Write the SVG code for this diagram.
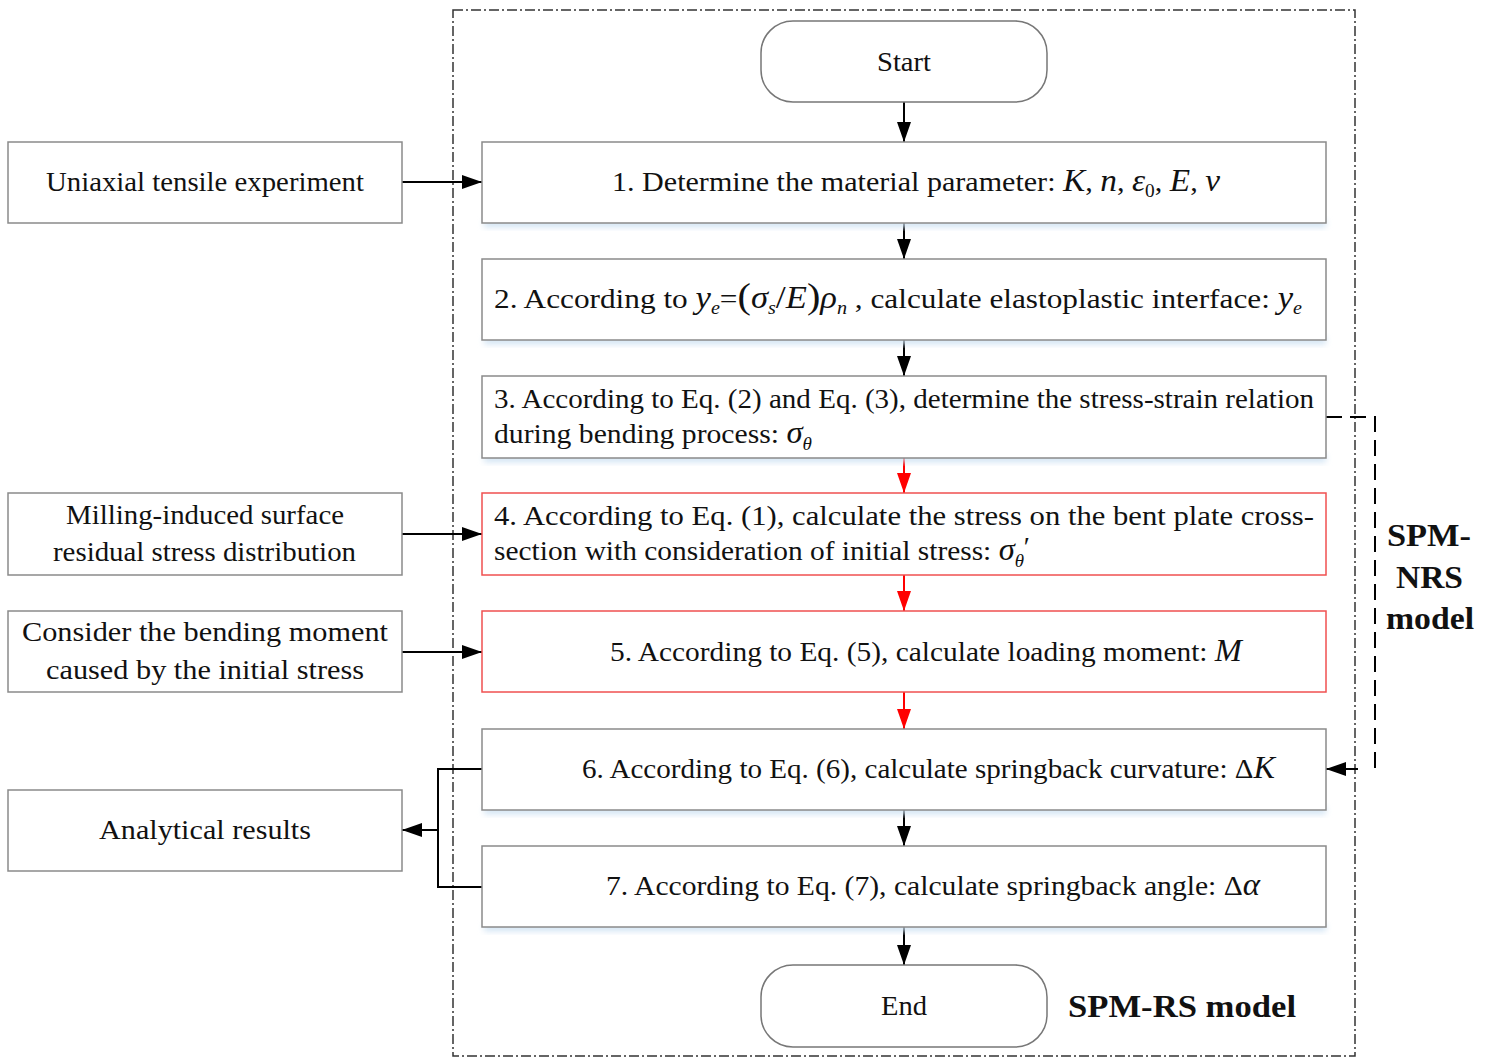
<svg xmlns="http://www.w3.org/2000/svg" width="1494" height="1059" viewBox="0 0 1494 1059">
<defs>
<style>
text{font-family:"Liberation Serif","Times New Roman",serif;font-size:28px;fill:#111}
.box{fill:#fff;stroke:#8a8a8a;stroke-width:1.5}
.red{fill:#fff;stroke:#f05050;stroke-width:1.5}
.term{fill:#fff;stroke:#777;stroke-width:1.5}
.sh{fill:#cfe2f3;filter:url(#blur)}
.ln{stroke:#000;stroke-width:2;fill:none}
.lr{stroke:#f00;stroke-width:2;fill:none}
.m{font-style:italic;font-size:31px}
.sub{font-style:italic;font-size:18px}
.b{font-weight:bold;font-size:32px}
</style>
<filter id="blur" x="-5%" y="-50%" width="110%" height="200%"><feGaussianBlur stdDeviation="3"/></filter>
<marker id="ah" markerUnits="userSpaceOnUse" markerWidth="22" markerHeight="16" refX="20" refY="7" orient="auto"><path d="M0,0 L20,7 L0,14 z" fill="#000"/></marker>
<marker id="ahr" markerUnits="userSpaceOnUse" markerWidth="22" markerHeight="16" refX="20" refY="7" orient="auto"><path d="M0,0 L20,7 L0,14 z" fill="#f00"/></marker>
</defs>
<rect width="1494" height="1059" fill="#fff"/>
<rect x="453" y="10" width="902" height="1046" fill="none" stroke="#333" stroke-width="1.5" stroke-dasharray="10,3,2,3"/>

<g id="connectors">
<line class="ln" x1="904" y1="102" x2="904" y2="142" marker-end="url(#ah)"/>
<line class="ln" x1="904" y1="223" x2="904" y2="259" marker-end="url(#ah)"/>
<line class="ln" x1="904" y1="340" x2="904" y2="376" marker-end="url(#ah)"/>
<line class="lr" x1="904" y1="458" x2="904" y2="493" marker-end="url(#ahr)"/>
<line class="lr" x1="904" y1="575" x2="904" y2="611" marker-end="url(#ahr)"/>
<line class="lr" x1="904" y1="692" x2="904" y2="729" marker-end="url(#ahr)"/>
<line class="ln" x1="904" y1="810" x2="904" y2="846" marker-end="url(#ah)"/>
<line class="ln" x1="904" y1="927" x2="904" y2="965" marker-end="url(#ah)"/>
<line class="ln" x1="402" y1="182" x2="482" y2="182" marker-end="url(#ah)"/>
<line class="ln" x1="402" y1="534" x2="482" y2="534" marker-end="url(#ah)"/>
<line class="ln" x1="402" y1="652" x2="482" y2="652" marker-end="url(#ah)"/>
<polyline class="ln" points="482,769 438,769 438,887 482,887"/>
<line class="ln" x1="438" y1="830" x2="402" y2="830" marker-end="url(#ah)"/>
<polyline class="ln" points="1326,417 1375,417 1375,769" stroke-dasharray="16,8"/>
<line class="ln" x1="1358" y1="769" x2="1326" y2="769" marker-end="url(#ah)"/>
</g>

<g id="start">
<rect class="term" x="761" y="21" width="286" height="81" rx="32"/>
<text x="877" y="71" textLength="54" lengthAdjust="spacingAndGlyphs">Start</text>
</g>

<g id="step1">
<rect class="sh" x="484" y="220" width="842" height="7"/>
<rect class="box" x="482" y="142" width="844" height="81"/>
<text x="612" y="191" textLength="608" lengthAdjust="spacingAndGlyphs">1. Determine the material parameter: <tspan class="m">K</tspan>, <tspan class="m">n</tspan>, <tspan class="m">ε</tspan><tspan font-size="18" dy="6">0</tspan><tspan dy="-6">, </tspan><tspan class="m">E</tspan>, <tspan class="m">ν</tspan></text>
</g>

<g id="step2">
<rect class="sh" x="484" y="337" width="842" height="7"/>
<rect class="box" x="482" y="259" width="844" height="81"/>
<text x="494" y="308" textLength="808" lengthAdjust="spacingAndGlyphs">2. According to <tspan class="m">y</tspan><tspan class="sub" dy="6">e</tspan><tspan dy="-6">=</tspan><tspan font-size="36">(</tspan><tspan class="m">σ</tspan><tspan class="sub" dy="6">s</tspan><tspan dy="-6" font-size="32">/</tspan><tspan class="m">E</tspan><tspan font-size="36">)</tspan><tspan class="m">ρ</tspan><tspan class="sub" dy="6">n</tspan><tspan dy="-6">   , calculate elastoplastic interface: </tspan><tspan class="m">y</tspan><tspan class="sub" dy="6">e</tspan></text>
</g>

<g id="step3">
<rect class="sh" x="484" y="455" width="842" height="7"/>
<rect class="box" x="482" y="376" width="844" height="82"/>
<text x="494" y="408" textLength="820" lengthAdjust="spacingAndGlyphs">3. According to Eq. (2) and Eq. (3), determine the stress-strain relation</text>
<text x="494" y="443" textLength="318" lengthAdjust="spacingAndGlyphs">during bending process: <tspan class="m">σ</tspan><tspan class="sub" dy="7">θ</tspan></text>
</g>

<g id="step4">
<rect class="red" x="482" y="493" width="844" height="82"/>
<text x="494" y="525" textLength="820" lengthAdjust="spacingAndGlyphs">4. According to Eq. (1), calculate the stress on the bent plate cross-</text>
<text x="494" y="560" textLength="530" lengthAdjust="spacingAndGlyphs">section with consideration of initial stress: <tspan class="m">σ</tspan><tspan class="sub" dy="7">θ</tspan></text>
<text x="1022" y="556" font-size="20" font-style="italic">′</text>
</g>

<g id="step5">
<rect class="red" x="482" y="611" width="844" height="81"/>
<text x="610" y="661" textLength="632" lengthAdjust="spacingAndGlyphs">5. According to Eq. (5), calculate loading moment:  <tspan class="m">M</tspan></text>
</g>

<g id="step6">
<rect class="sh" x="484" y="807" width="842" height="7"/>
<rect class="box" x="482" y="729" width="844" height="81"/>
<text x="582" y="778" textLength="693" lengthAdjust="spacingAndGlyphs">6. According to Eq. (6), calculate springback curvature:  Δ<tspan class="m" font-size="28">K</tspan></text>
</g>

<g id="step7">
<rect class="sh" x="484" y="924" width="842" height="7"/>
<rect class="box" x="482" y="846" width="844" height="81"/>
<text x="606" y="895" textLength="654" lengthAdjust="spacingAndGlyphs">7. According to Eq. (7), calculate springback angle:   Δ<tspan class="m" font-size="28">α</tspan></text>
</g>

<g id="end">
<rect class="term" x="761" y="965" width="286" height="82" rx="32"/>
<text x="881" y="1015" textLength="46" lengthAdjust="spacingAndGlyphs">End</text>
</g>

<g id="uniaxial">
<rect class="box" x="8" y="142" width="394" height="81"/>
<text x="46" y="191" textLength="318" lengthAdjust="spacingAndGlyphs">Uniaxial tensile experiment</text>
</g>

<g id="milling">
<rect class="box" x="8" y="493" width="394" height="82"/>
<text x="66" y="524" textLength="278" lengthAdjust="spacingAndGlyphs">Milling-induced surface</text>
<text x="53" y="561" textLength="303" lengthAdjust="spacingAndGlyphs">residual stress distribution</text>
</g>

<g id="consider">
<rect class="box" x="8" y="611" width="394" height="81"/>
<text x="22" y="641" textLength="366" lengthAdjust="spacingAndGlyphs">Consider the bending moment</text>
<text x="46" y="679" textLength="318" lengthAdjust="spacingAndGlyphs">caused by the initial stress</text>
</g>

<g id="analytical">
<rect class="box" x="8" y="790" width="394" height="81"/>
<text x="99" y="839" textLength="212" lengthAdjust="spacingAndGlyphs">Analytical results</text>
</g>

<g id="labels">
<text class="b" x="1068" y="1017" textLength="228" lengthAdjust="spacingAndGlyphs">SPM-RS model</text>
<text class="b" x="1387" y="546" textLength="84" lengthAdjust="spacingAndGlyphs">SPM-</text>
<text class="b" x="1396" y="588" textLength="67" lengthAdjust="spacingAndGlyphs">NRS</text>
<text class="b" x="1386" y="629" textLength="88" lengthAdjust="spacingAndGlyphs">model</text>
</g>
</svg>
